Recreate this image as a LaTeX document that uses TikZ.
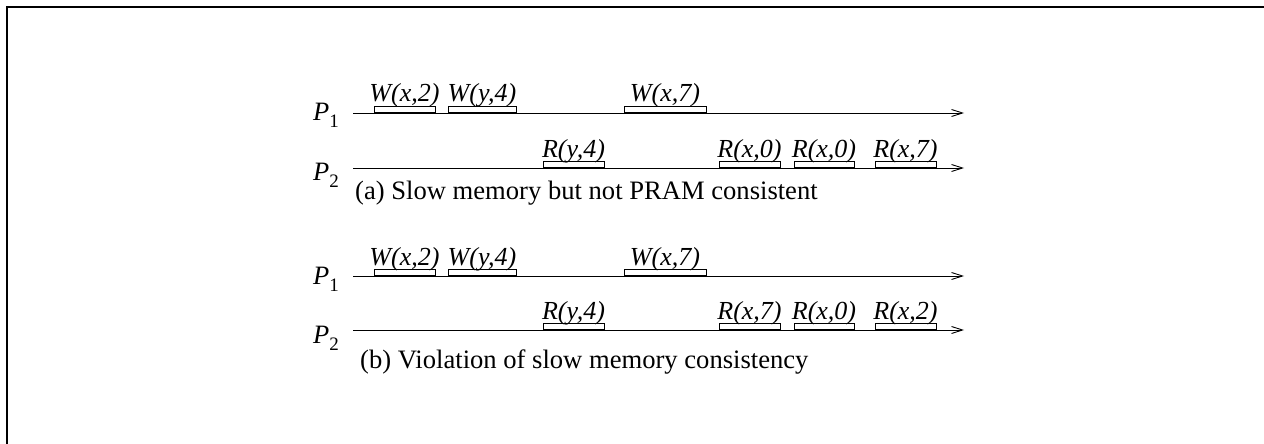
\documentclass[tikz,border=0pt]{standalone}
\usepackage{fontspec}
\setmainfont{Liberation Serif}
\usetikzlibrary{arrows.meta}
\tikzset{
  timeline/.style={line width=1pt, -{Straight Barb[length=11pt,width=7pt,line width=0.9pt]}},
  opbox/.style={draw, line width=1pt, rectangle, minimum height=6pt, inner sep=0pt, anchor=south},
  oplabel/.style={font=\fontsize{26}{30}\selectfont\itshape, inner sep=0pt, anchor=base},
  proclabel/.style={font=\fontsize{26.5}{30}\selectfont, inner sep=0pt, anchor=base west},
  caption/.style={font=\fontsize{26.6}{30}\selectfont, inner sep=0pt, anchor=base west},
}
% operation box on a process line: name, centre x, line y, width, label text
\newcommand{\opbox}[5]{%
  \node[opbox, minimum width=#4] (#1) at (#2,#3) {};
  \node[oplabel] (#1l) at ([yshift=4pt]#1.north) {#5};
}
\newcommand{\proc}[1]{\textit{P}\raisebox{-7pt}{\fontsize{19}{20}\selectfont #1}}
\begin{document}
\begin{tikzpicture}[x=1pt, y=-1pt]
\useasboundingbox (0,0) rectangle (1264,444);
% outer frame, running off the right and bottom edges
\coordinate (fbl) at (7,460);
\coordinate (ftl) at (7,7);
\coordinate (ftr) at (1280,7);
\draw[line width=2pt] (fbl) -- (ftl) -- (ftr);

% ---------- (a) ----------
\coordinate (a1s) at (353,113); \coordinate (a1e) at (964,113);
\coordinate (a2s) at (353,168); \coordinate (a2e) at (964,168);
\draw[timeline] (a1s) -- (a1e);
\draw[timeline] (a2s) -- (a2e);
\node[proclabel] (ap1) at (313,121) {\proc{1}};
\node[proclabel] (ap2) at (313,180) {\proc{2}};
\opbox{aw1}{404.5}{113}{61}{W(x,2)}
\opbox{aw2}{482}{113}{68}{W(y,4)}
\opbox{aw3}{665}{113}{82}{W(x,7)}
\opbox{ar1}{573.5}{168}{61}{R(y,4)}
\opbox{ar2}{749.5}{168}{61}{R(x,0)}
\opbox{ar3}{824}{168}{60}{R(x,0)}
\opbox{ar4}{905.5}{168}{61}{R(x,7)}
\node[caption] (acap) at (355,199) {(a) Slow memory but not PRAM consistent};

% ---------- (b) ----------
\coordinate (b1s) at (353,276); \coordinate (b1e) at (964,276);
\coordinate (b2s) at (353,330); \coordinate (b2e) at (964,330);
\draw[timeline] (b1s) -- (b1e);
\draw[timeline] (b2s) -- (b2e);
\node[proclabel] (bp1) at (313,284) {\proc{1}};
\node[proclabel] (bp2) at (313,343) {\proc{2}};
\opbox{bw1}{404.5}{276}{61}{W(x,2)}
\opbox{bw2}{482}{276}{68}{W(y,4)}
\opbox{bw3}{665}{276}{82}{W(x,7)}
\opbox{br1}{573.5}{330}{61}{R(y,4)}
\opbox{br2}{749.5}{330}{61}{R(x,7)}
\opbox{br3}{824}{330}{60}{R(x,0)}
\opbox{br4}{905.5}{330}{61}{R(x,2)}
\node[caption] (bcap) at (360,368) {(b) Violation of slow memory consistency};
\end{tikzpicture}
\end{document}
